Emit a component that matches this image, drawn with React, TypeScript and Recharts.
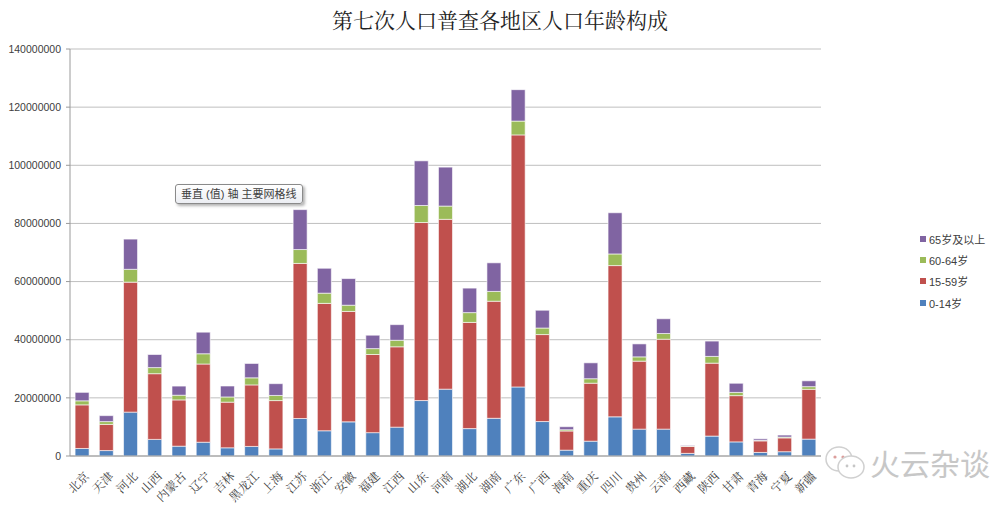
import React from "react";
import { BarChart, Bar, XAxis, YAxis, CartesianGrid, Legend } from "recharts";

const provinces = [
  "北京", "天津", "河北", "山西", "内蒙古", "辽宁", "吉林", "黑龙江", "上海", "江苏",
  "浙江", "安徽", "福建", "江西", "山东", "河南", "湖北", "湖南", "广东", "广西",
  "海南", "重庆", "四川", "贵州", "云南", "西藏", "陕西", "甘肃", "青海", "宁夏", "新疆",
];

const age0to14 = [
  2590000, 1870000, 15090000, 5710000, 3380000, 4740000, 2820000, 3290000, 2440000, 12890000,
  8680000, 11740000, 8030000, 9920000, 19070000, 22990000, 9420000, 12970000, 23750000, 11850000,
  2010000, 5100000, 13470000, 9240000, 9240000, 900000, 6850000, 4850000, 1230000, 1470000, 5810000,
];
const age15to59 = [
  15000000, 9000000, 44710000, 22600000, 15910000, 26900000, 15700000, 21170000, 16620000, 53350000,
  43820000, 37990000, 26880000, 27640000, 61240000, 58420000, 36530000, 40270000, 86700000, 29920000,
  6590000, 19940000, 52030000, 23390000, 30930000, 2440000, 25090000, 15910000, 3970000, 4760000, 17130000,
];
const age60to64 = [
  1390000, 960000, 4420000, 2100000, 1620000, 3530000, 1790000, 2420000, 1770000, 4780000,
  3510000, 2140000, 2030000, 2250000, 5860000, 4560000, 3370000, 3370000, 4750000, 2250000,
  430000, 1540000, 4000000, 1470000, 1960000, 100000, 2320000, 1110000, 200000, 280000, 910000,
];
const age65plus = [
  2910000, 2050000, 10390000, 4500000, 3140000, 7420000, 3760000, 4970000, 4050000, 13730000,
  8570000, 9160000, 4610000, 5370000, 15360000, 13400000, 8430000, 9840000, 10810000, 6120000,
  1050000, 5470000, 14170000, 4460000, 5080000, 210000, 5270000, 3150000, 510000, 690000, 2010000,
];

const yTicks = [0, 20000000, 40000000, 60000000, 80000000, 100000000, 120000000, 140000000];

const series = [
  { key: "a", name: "0-14岁", color: "#4F81BD" },
  { key: "b", name: "15-59岁", color: "#C0504D" },
  { key: "c", name: "60-64岁", color: "#9BBB59" },
  { key: "d", name: "65岁及以上", color: "#8064A2" },
];

const data = provinces.map((p, i) => ({
  name: p,
  a: age0to14[i],
  b: age15to59[i],
  c: age60to64[i],
  d: age65plus[i],
}));

const serifCJK = '"Noto Serif CJK SC", "Noto Sans CJK SC", serif';
const sans = '"Liberation Sans", "Noto Sans CJK SC", sans-serif';

// rotated category labels, ending just right of the bar centre
const XTick = (props: any) => {
  const { x, y, payload } = props;
  return (
    <g transform={`translate(${x + 5},${y + 10})`}>
      <text
        textAnchor="end"
        transform="rotate(-45)"
        dy="0.35em"
        fontSize={12}
        fill="#404040"
        fontFamily={serifCJK}
      >
        {payload.value}
      </text>
    </g>
  );
};

const LegendBox = () => (
  <div style={{ fontFamily: sans, fontSize: 11, color: "#404040" }}>
    {[...series].reverse().map((s) => (
      <div key={s.key} style={{ display: "flex", alignItems: "center", height: 21.3 }}>
        <span style={{ width: 6, height: 6, background: s.color, marginRight: 3, display: "inline-block" }} />
        <span>{s.name}</span>
      </div>
    ))}
  </div>
);

export default function App() {
  return (
    <div style={{ position: "relative", width: 1000, height: 506, background: "#fff", overflow: "hidden" }}>
      <style>{`body{margin:0}`}</style>
      <div
        style={{
          position: "absolute",
          left: 0,
          right: 0,
          top: 4,
          textAlign: "center",
          fontFamily: serifCJK,
          fontSize: 21,
          color: "#222",
        }}
      >
        第七次人口普查各地区人口年龄构成
      </div>
      <BarChart
        width={1000}
        height={506}
        data={data}
        margin={{ top: 49, right: 99, left: 0, bottom: 0 }}
        barCategoryGap="21%"
      >
        <CartesianGrid vertical={false} stroke="#BFBFBF" strokeWidth={1} />
        <XAxis
          dataKey="name"
          interval={0}
          tick={<XTick />}
          tickLine={false}
          axisLine={{ stroke: "#9A9A9A" }}
          height={50}
        />
        <YAxis
          width={70}
          domain={[0, 140000000]}
          ticks={yTicks}
          interval={0}
          tick={{ fontSize: 10.5, fill: "#404040", fontFamily: sans }}
          tickSize={4}
          tickMargin={5}
          tickLine={{ stroke: "#9A9A9A" }}
          axisLine={{ stroke: "#9A9A9A" }}
        />
        <Legend
          layout="vertical"
          align="right"
          verticalAlign="top"
          content={<LegendBox />}
          wrapperStyle={{ left: 920, top: 228, width: 80 }}
        />
        {series.map((s) => (
          <Bar
            key={s.key}
            dataKey={s.key}
            name={s.name}
            stackId="pop"
            fill={s.color}
            stroke="rgba(255,255,255,0.75)"
            strokeWidth={0.8}
            isAnimationActive={false}
          />
        ))}
      </BarChart>
      <div
        style={{
          position: "absolute",
          left: 175,
          top: 184,
          height: 18,
          padding: "0 5px",
          border: "1px solid #8a8a8a",
          borderRadius: 3,
          background: "linear-gradient(#ffffff, #eceef3)",
          boxShadow: "2px 2px 3px rgba(0,0,0,0.3)",
          fontFamily: sans,
          fontSize: 11,
          lineHeight: "18px",
          color: "#404040",
          whiteSpace: "nowrap",
        }}
      >
        垂直 (值) 轴 主要网格线
      </div>
      <div
        style={{
          position: "absolute",
          left: 822,
          top: 440,
          display: "flex",
          alignItems: "center",
          opacity: 0.55,
        }}
      >
        <svg width={46} height={40}>
          <ellipse cx={17} cy={17} rx={13} ry={12} fill="#fff" stroke="#aaa" strokeWidth={1.5} />
          <circle cx={13} cy={15} r={1.6} fill="#c0504d" />
          <circle cx={21} cy={15} r={1.6} fill="#c0504d" />
          <ellipse cx={29} cy={25} rx={13} ry={11} fill="#fff" stroke="#aaa" strokeWidth={1.5} />
          <circle cx={25} cy={24} r={1.4} fill="#999" />
          <circle cx={32} cy={24} r={1.4} fill="#999" />
        </svg>
        <span style={{ fontFamily: '"Noto Sans CJK SC", sans-serif', fontSize: 30, color: "#9a9a9a", marginLeft: 2 }}>
          火云杂谈
        </span>
      </div>
    </div>
  );
}
